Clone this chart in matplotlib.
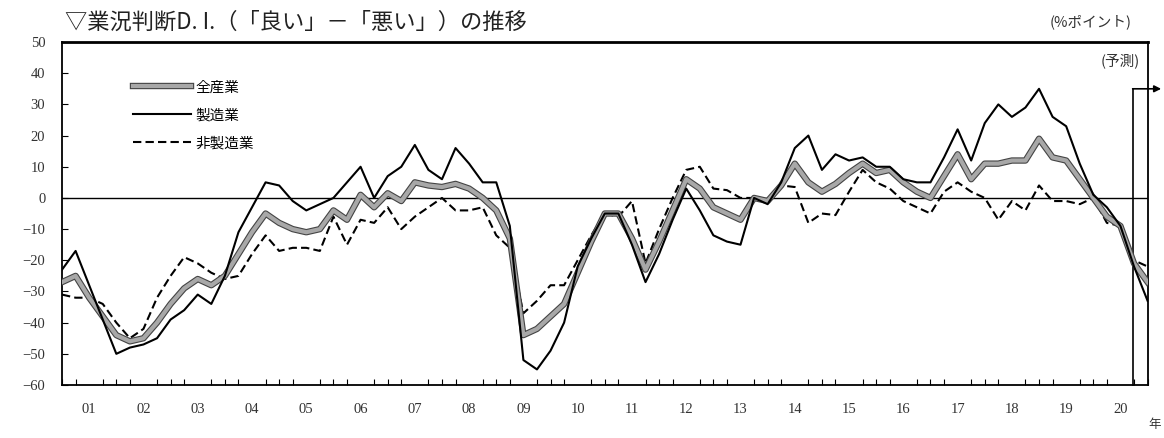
import matplotlib
matplotlib.use('Agg')
import matplotlib.pyplot as plt
import matplotlib.patheffects as pe
import numpy as np

jp = ['Noto Sans CJK JP', 'DejaVu Sans']
num_font = 'Liberation Serif'

years = ['%02d' % y for y in range(1, 21)]

# quarterly D.I. values, first point at left edge, last point = forecast
all_ind = [-27, -25, -32, -38, -44,
           -46, -45, -40, -34, -29,
           -26, -28, -25, -18, -11,
           -5, -8, -10, -11, -10,
           -4, -7, 1, -3, 1.5,
           -1, 5, 4, 3.5, 4.5,
           3, 0, -4, -13, -44,
           -42, -38, -34, -24, -14,
           -5, -5, -13, -23, -14,
           -4, 6, 3, -3, -5,
           -7, 0, -1, 4, 11,
           5, 2, 4.5, 8, 11,
           8, 9, 5, 2, 0,
           7, 14, 6, 11, 11,
           12, 12, 19, 13, 12,
           6, 0, -6, -9, -21,
           -27]
mfg = [-23, -17, -28, -39, -50,
       -48, -47, -45, -39, -36,
       -31, -34, -25, -11, -3,
       5, 4, -1, -4, -2,
       0, 5, 10, 0, 7,
       10, 17, 9, 6, 16,
       11, 5, 5, -9, -52,
       -55, -49, -40, -22, -13,
       -5, -5, -15, -27, -18,
       -7, 3, -4, -12, -14,
       -15, 0, -2, 5, 16,
       20, 9, 14, 12, 13,
       10, 10, 6, 5, 5,
       13, 22, 12, 24, 30,
       26, 29, 35, 26, 23,
       11, 1, -3, -9, -22,
       -33]
non_mfg = [-31, -32, -32, -34, -40,
           -45, -42, -32, -25, -19,
           -21, -24, -26, -25, -18,
           -12, -17, -16, -16, -17,
           -6, -15, -7, -8, -3,
           -10, -6, -3, 0, -4,
           -4, -3, -12, -16, -37,
           -33, -28, -28, -20, -12,
           -5, -6, -1, -21, -10,
           0, 9, 10, 3, 2.5,
           0, 0, -1.5, 4, 3.5,
           -8, -5, -5.5, 2, 9,
           5, 3, -1, -3, -5,
           2, 5, 2, 0, -7,
           -1, -4, 4, -1, -1,
           -2, 0, -8, -9, -20,
           -22]
labels = ['全産業', '製造業', '非製造業']

x = np.arange(len(all_ind))

fig = plt.figure(figsize=(11.64, 4.38), dpi=100)
ax = fig.add_axes([0.0533, 0.121, 0.9326, 0.783])

ax.axhline(0, color='black', lw=1, zorder=1)
ax.plot(x, all_ind, color='#a8a8a8', lw=3, label=labels[0], zorder=3,
        path_effects=[pe.Stroke(linewidth=4.6, foreground='#444444'), pe.Normal()])
ax.plot(x, mfg, color='black', lw=1.5, label=labels[1], zorder=4)
ax.plot(x, non_mfg, color='black', lw=1.5, ls=(0, (4, 2)), label=labels[2], zorder=2)

ax.set_xlim(0, 80)
ax.set_ylim(-60, 50)
ax.set_yticks(range(-60, 51, 10))
ax.set_xticks(np.arange(2, 80, 4))
ax.set_xticklabels(years)
ax.set_xticks(np.arange(0, 81), minor=True)
ax.tick_params(axis='x', which='major', length=0, pad=13)
ax.tick_params(axis='x', which='minor', direction='in', length=4, width=0.8)
ax.tick_params(axis='y', direction='in', length=4, width=0.8, pad=12)
for lab in ax.get_xticklabels() + ax.get_yticklabels():
    lab.set_fontfamily(num_font)
    lab.set_fontsize(10.5)
    lab.set_color('#333333')
for s in ax.spines.values():
    s.set_linewidth(1.3)
ax.spines['top'].set_linewidth(2)

leg = ax.legend(loc='upper left', bbox_to_anchor=(0.06, 0.905), frameon=False,
                handlelength=4, handletextpad=0.3, labelspacing=0.95,
                borderaxespad=0, prop={'family': jp, 'size': 10.5})

# forecast marker
ax.plot([78.9, 78.9], [-60, 35], color='black', lw=1.2, clip_on=False)
ax.annotate('', xy=(81.0, 35), xytext=(78.9, 35), annotation_clip=False,
            arrowprops=dict(arrowstyle='-|>', color='black', lw=1.2,
                            mutation_scale=10, shrinkA=0, shrinkB=0))
ax.text(0.993, 0.968, '(予測)', transform=ax.transAxes, ha='right', va='top',
        fontsize=10.5, family=jp, color='#333333')

fig.text(0.056, 0.948, '▽業況判断D. I.（「良い」－「悪い」）の推移', ha='left', va='center',
         fontsize=16, family=jp, color='#222222')
fig.text(0.972, 0.95, '(%ポイント)', ha='right', va='center', fontsize=10.5,
         family=jp, color='#333333')
fig.text(0.992, 0.03, '年', ha='center', va='center', fontsize=9,
         family=jp, color='#333333')

fig.savefig('out.png', dpi=100)
